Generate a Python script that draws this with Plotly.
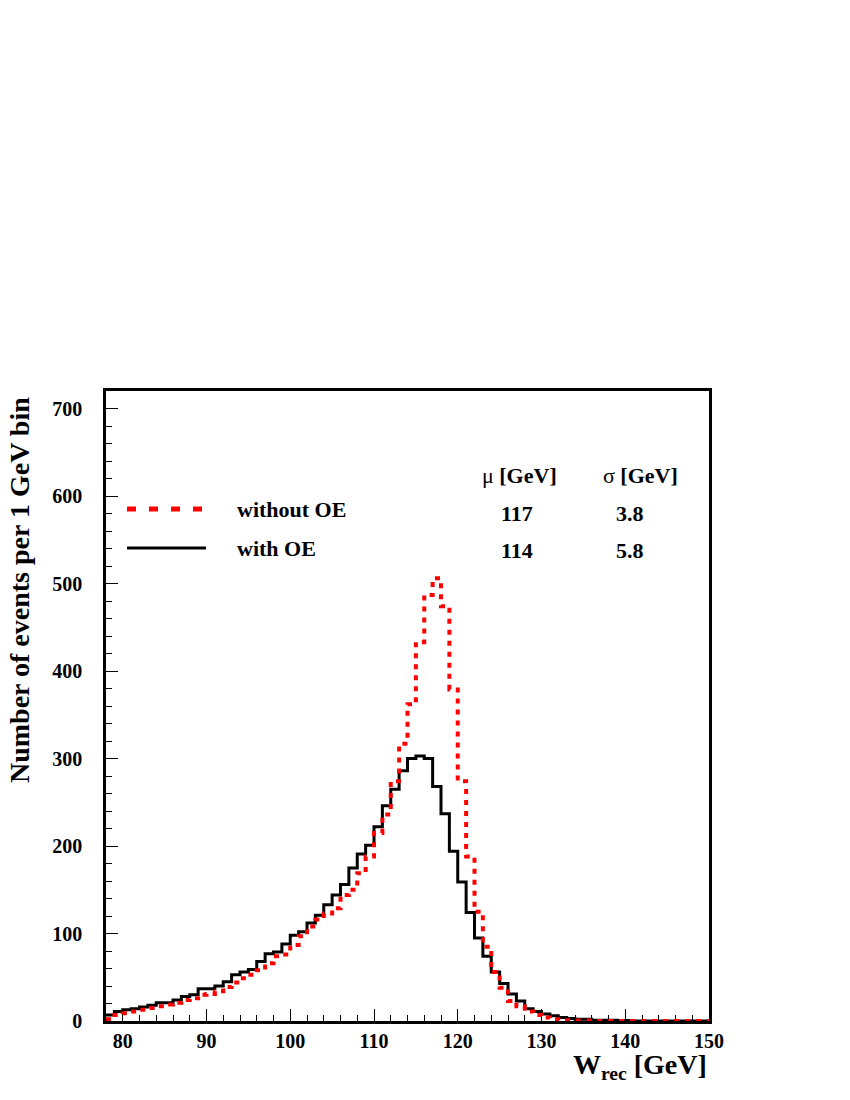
import plotly.graph_objects as go

# 1 GeV bins from 78 to 150 GeV
bin_lo = 78
bin_hi = 150

with_oe = [7, 11, 13, 14, 16, 18, 21, 21, 24, 28,
           30, 37, 37, 40, 45, 53, 56, 59, 68, 77,
           79, 88, 98, 102, 112, 121, 133, 144, 156, 175,
           191, 201, 222, 246, 265, 286, 300, 303, 300, 268,
           237, 194, 159, 124, 95, 74, 56, 43, 31, 23,
           14, 11, 8, 6, 4, 3, 2, 2, 1, 1,
           1, 0.5, 0.5, 0, 0, 0, 0, 0, 0, 0,
           0, 0]

without_oe = [2, 7, 9, 11, 13, 15, 17, 19, 21, 24,
              26, 30, 31, 34, 39, 44, 49, 53, 58, 66,
              74, 76, 87, 97, 108, 116, 123, 129, 144, 150,
              169, 188, 215, 236, 274, 317, 362, 433, 487, 506,
              474, 379, 274, 188, 125, 85, 56, 38, 23, 17,
              11, 7, 4, 2, 1, 1, 0.5, 0.5, 0, 0,
              0, 0, 0, 0, 0, 0, 0, 0, 0, 0,
              0, 0]

edges = list(range(bin_lo, bin_hi + 1))

legend_labels = ["without OE", "with OE"]
mu_values = ["117", "114"]
sigma_values = ["3.8", "5.8"]

FONT = "Liberation Serif"

fig = go.Figure()
fig.add_trace(go.Scatter(
    x=edges, y=with_oe + [with_oe[-1]], mode="lines", line_shape="hv",
    line=dict(color="black", width=3), showlegend=False, hoverinfo="skip"))
fig.add_trace(go.Scatter(
    x=edges, y=without_oe + [without_oe[-1]], mode="lines", line_shape="hv",
    line=dict(color="#ff0000", width=4, dash="5px,6px"), showlegend=False,
    hoverinfo="skip"))

# page body has an 8px margin, so offset the figure margins accordingly
OFF = 8
L, T = 106 - OFF, 391 - OFF
pw, ph = 603, 630
W, H = 850, 1100
R = W - L - pw
B = H - T - ph


def px(xp):
    # xp: target pixel in the screenshot
    return (xp - 106) / pw


def py(yp):
    return (1021 - yp) / ph


# legend samples
fig.add_shape(type="line", xref="paper", yref="paper",
              x0=px(127), x1=px(206), y0=py(509), y1=py(509),
              line=dict(color="#ff0000", width=5, dash="9px,13px"))
fig.add_shape(type="line", xref="paper", yref="paper",
              x0=px(127), x1=px(206), y0=py(548), y1=py(548),
              line=dict(color="black", width=3))

ann_font = dict(family=FONT, size=22, color="black", weight="bold")
for lab, yp in zip(legend_labels, [509, 548]):
    fig.add_annotation(xref="paper", yref="paper", x=px(235), y=py(yp),
                       text=lab, showarrow=False, xanchor="left",
                       yanchor="middle", font=ann_font)

fig.add_annotation(xref="paper", yref="paper", x=px(519), y=py(475),
                   text="μ <b>[GeV]</b>", showarrow=False, xanchor="center",
                   yanchor="middle", font=dict(family=FONT, size=22, color="black"))
fig.add_annotation(xref="paper", yref="paper", x=px(640), y=py(475),
                   text="σ <b>[GeV]</b>", showarrow=False, xanchor="center",
                   yanchor="middle", font=dict(family=FONT, size=22, color="black"))
for m, s, yp in zip(mu_values, sigma_values, [513, 550]):
    fig.add_annotation(xref="paper", yref="paper", x=px(517), y=py(yp),
                       text=m, showarrow=False, xanchor="center",
                       yanchor="middle", font=ann_font)
    fig.add_annotation(xref="paper", yref="paper", x=px(630), y=py(yp),
                       text=s, showarrow=False, xanchor="center",
                       yanchor="middle", font=ann_font)

# axis titles
fig.add_annotation(xref="paper", yref="paper", x=px(19), y=py(590),
                   text="Number of events per 1 GeV bin", showarrow=False,
                   textangle=-90, xanchor="center", yanchor="middle",
                   font=dict(family=FONT, size=28, color="black", weight="bold"))
fig.add_annotation(xref="paper", yref="paper", x=px(709), y=py(1066),
                   text="W<sub>rec</sub> [GeV]", showarrow=False,
                   xanchor="right", yanchor="middle",
                   font=dict(family=FONT, size=28, color="black", weight="bold"))

tick_font = dict(family=FONT, size=20, color="black", weight="bold")
fig.update_xaxes(range=[bin_lo, bin_hi], tick0=80, dtick=10, ticks="inside",
                 ticklen=12, tickwidth=1, tickcolor="black",
                 minor=dict(dtick=2, tick0=80, ticks="inside", ticklen=6,
                            tickwidth=1, tickcolor="black", showgrid=False),
                 showline=True, linecolor="black", linewidth=2.5, mirror=True,
                 showgrid=False, zeroline=False, tickfont=tick_font,
                 layer="below traces", ticklabelstandoff=0)
fig.update_yaxes(range=[0, 720], tick0=0, dtick=100, ticks="inside",
                 ticklen=12, tickwidth=1, tickcolor="black",
                 minor=dict(dtick=20, tick0=0, ticks="inside", ticklen=6,
                            tickwidth=1, tickcolor="black", showgrid=False),
                 showline=True, linecolor="black", linewidth=2.5, mirror=True,
                 showgrid=False, zeroline=False, tickfont=tick_font,
                 layer="below traces", ticklabelstandoff=17)

fig.update_layout(width=W, height=H, margin=dict(l=L, r=R, t=T, b=B),
                  paper_bgcolor="white", plot_bgcolor="white",
                  showlegend=False)

fig.write_html("out.html")
